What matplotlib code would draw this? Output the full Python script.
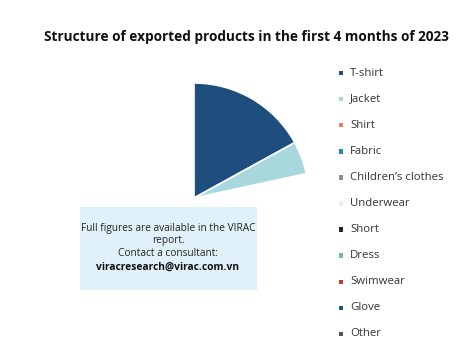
import matplotlib
matplotlib.use("Agg")
import matplotlib.pyplot as plt
from matplotlib.patches import Rectangle

# ---- data ----
title = "Structure of exported products in the first 4 months of 2023"
categories = ["T-shirt", "Jacket", "Shirt", "Fabric", "Children\u2019s clothes", "Underwear",
              "Short", "Dress", "Swimwear", "Glove", "Other"]
colors = ["#1d4e7d", "#a8d8de", "#e8825f", "#2589b8", "#8a9099", "#eeeeee",
          "#1a2535", "#6fb8c0", "#b5442b", "#1e5a7a", "#555555"]
shown_values = [17.0, 4.6]          # visible wedges (percent)
hidden_value = 100 - sum(shown_values)  # rest of the pie is hidden
box_lines = ["Full figures are available in the VIRAC", "report.", "Contact a consultant:"]
box_email = "viracresearch@virac.com.vn"

plt.rcParams['font.family'] = ['Open Sans', 'DejaVu Sans']

W, H = 474, 355
fig = plt.figure(figsize=(W / 100, H / 100), dpi=100)
ax = fig.add_axes([0, 0, 1, 1])

vals = shown_values + [hidden_value]
cols = colors[:len(shown_values)] + ["none"]
wedges, _ = ax.pie(vals, colors=cols, startangle=90, counterclock=False,
                   center=(194, H - 198), radius=115,
                   wedgeprops=dict(edgecolor="white", linewidth=1.2))
wedges[-1].set_edgecolor("none")
ax.set_xlim(0, W)
ax.set_ylim(0, H)
ax.set_aspect("auto")
ax.axis("off")

# title
ax.text(246, H - 37, title, ha="center", va="center", fontsize=9.8,
        fontweight="bold", color="#111111")

# info box
ax.add_patch(Rectangle((80, H - 290), 177, 83, facecolor="#e1f1f9", edgecolor="none", zorder=5))
ys = [228, 241, 254]
for y, t in zip(ys, box_lines):
    ax.text(168, H - y, t, ha="center", va="center", fontsize=7.3, color="#222222", zorder=6)
ax.text(168, H - 267, box_email, ha="center", va="center", fontsize=7.4,
        fontweight="bold", color="#111111", zorder=6)

# legend
leg_y0, leg_dy = 73, 26.1
for i, (c, col) in enumerate(zip(categories, colors)):
    y = H - (leg_y0 + i * leg_dy)
    ax.add_patch(Rectangle((339, y - 2.2), 4.5, 4.5, facecolor=col, edgecolor="none"))
    ax.text(350, y, c, ha="left", va="center", fontsize=8.2, color="#333333")

fig.savefig("out.png", dpi=100)
